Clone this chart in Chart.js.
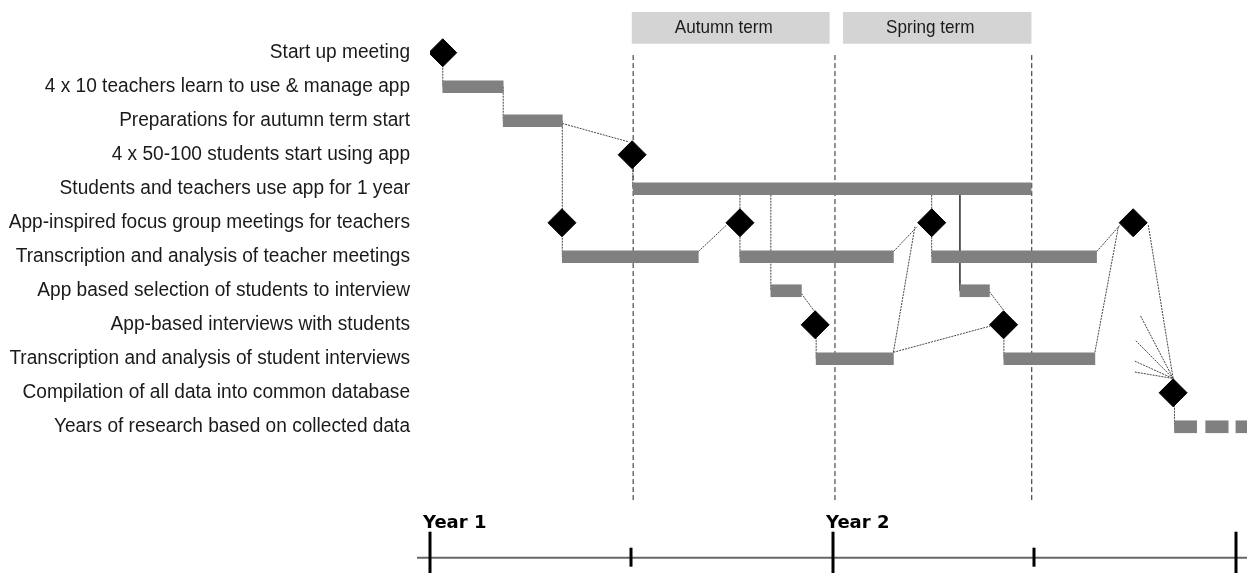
<!DOCTYPE html>
<html>
<head>
<meta charset="utf-8">
<script src="https://cdn.jsdelivr.net/npm/chart.js@4.4.0/dist/chart.umd.min.js"></script>
<style>
  html, body { margin: 0; padding: 0; background: #fff; }
  #wrap { width: 1247px; height: 573px; }
</style>
</head>
<body>
<div id="wrap"><canvas id="plan"></canvas></div>
<script>
// rows, top to bottom
const rowLabels = [
  "Start up meeting",
  "4 x 10 teachers learn to use & manage app",
  "Preparations for autumn term start",
  "4 x 50-100 students start using app",
  "Students and teachers use app for 1 year",
  "App-inspired focus group meetings for teachers",
  "Transcription and analysis of teacher meetings",
  "App based selection of students to interview",
  "App-based interviews with students",
  "Transcription and analysis of student interviews",
  "Compilation of all data into common database",
  "Years of research based on collected data"
];

// activities (months from start of year 1)
const barRows   = [1, 2, 4, 6, 6, 6, 7, 7, 9, 9, 11, 11, 11];
const barStarts = [0.38, 2.18, 6.05, 3.94, 9.23, 14.94, 10.15, 15.78, 11.5, 17.09, 22.17, 23.1, 24.0];
const barEnds   = [2.18, 3.94, 17.9, 7.99, 13.8, 19.85, 11.06, 16.66, 13.8, 19.8, 22.83, 23.77, 24.33];

// milestones
const milestoneRows   = [0, 3, 5, 5, 5, 5, 8, 8, 10];
const milestoneMonths = [0.38, 6.02, 3.93, 9.23, 14.94, 20.94, 11.47, 17.08, 22.13];

// dependency links: [month1, row1, month2, row2]
const links = [
  [0.38, 0, 0.38, 1],
  [2.18, 1, 2.18, 2],
  [3.94, 2.08, 5.91, 2.62],
  [3.94, 2, 3.94, 6],
  [6.04, 3, 6.04, 4],
  [9.23, 4, 9.23, 6],
  [10.15, 4, 10.15, 7],
  [14.94, 4, 14.94, 6],
  [7.99, 5.85, 8.83, 5.07],
  [13.8, 5.85, 14.5, 5.12],
  [13.8, 8.81, 14.44, 5.12],
  [13.8, 8.81, 16.68, 8.04],
  [11.06, 7.08, 11.46, 7.62],
  [11.5, 8, 11.5, 9],
  [16.66, 7.03, 17.08, 7.57],
  [17.09, 8, 17.09, 9],
  [19.85, 5.85, 20.55, 5.07],
  [19.8, 8.81, 20.5, 5.12],
  [21.39, 5.07, 22.13, 9.58],
  [21.16, 7.74, 22.13, 9.58],
  [21.02, 8.47, 22.13, 9.58],
  [20.99, 9.07, 22.13, 9.58],
  [20.99, 9.39, 22.13, 9.58],
  [22.17, 10, 22.17, 11]
];
const solidLinks = [
  [15.78, 4, 15.78, 7]
];

// terms
const termNames  = ["Autumn term", "Spring term"];
const termStarts = [6.02, 12.31];
const termEnds   = [11.89, 17.9];
const termBreaks = [6.05, 12.06, 17.92];

// time axis
const axisTicks  = [0, 6, 12, 18, 24];
const yearLabels = ["Year 1", "", "Year 2", "", ""];

const termRow = -0.73;
const axisRow = 14.85;
const labelFont = '"Liberation Sans", Arial, sans-serif';

function linkSet(list, dash) {
  return list.map(l => ({
    type: "scatter",
    data: [{ x: l[0], y: l[1] }, { x: l[2], y: l[3] }],
    showLine: true,
    borderColor: "#444",
    borderWidth: 1,
    borderDash: dash,
    pointRadius: 0,
    order: 3
  }));
}

// source text is slightly condensed
function narrowText(ctx, text, px, py, squeeze) {
  ctx.save();
  ctx.translate(px, py);
  ctx.scale(squeeze, 1);
  ctx.fillText(text, 0, 0);
  ctx.restore();
}

const timelinePlugin = {
  id: "timeline",
  afterDatasetsDraw(chart) {
    const { ctx, scales: { x, y } } = chart;
    ctx.save();

    // row labels
    ctx.font = "20px " + labelFont;
    ctx.fillStyle = "#1a1a1a";
    ctx.textAlign = "right";
    ctx.textBaseline = "middle";
    rowLabels.forEach((t, i) => narrowText(ctx, t, 410, y.getPixelForValue(i), 0.955));

    // term titles
    ctx.font = "19px " + labelFont;
    ctx.textAlign = "center";
    termNames.forEach((t, i) => {
      const cx = (x.getPixelForValue(termStarts[i]) + x.getPixelForValue(termEnds[i])) / 2 - 7;
      narrowText(ctx, t, cx, y.getPixelForValue(termRow), 0.9);
    });

    // time axis
    const ay = y.getPixelForValue(axisRow);
    ctx.strokeStyle = "#666";
    ctx.lineWidth = 2;
    ctx.beginPath();
    ctx.moveTo(x.getPixelForValue(0) - 13, ay);
    ctx.lineTo(chart.width, ay);
    ctx.stroke();

    ctx.strokeStyle = "#000";
    ctx.lineWidth = 3;
    ctx.font = "bold 18px 'DejaVu Sans', Verdana, sans-serif";
    ctx.textAlign = "left";
    ctx.textBaseline = "alphabetic";
    ctx.fillStyle = "#000";
    axisTicks.forEach((t, i) => {
      const px = Math.round(x.getPixelForValue(t));
      const major = t % 12 === 0;
      ctx.beginPath();
      ctx.moveTo(px, major ? ay - 26 : ay - 10);
      ctx.lineTo(px, major ? ay + 16 : ay + 9);
      ctx.stroke();
      if (yearLabels[i]) ctx.fillText(yearLabels[i], px - 7, ay - 30);
    });
    ctx.restore();
  }
};

new Chart(document.getElementById("plan"), {
  type: "bar",
  data: {
    datasets: [
      {
        type: "bar",
        indexAxis: "y",
        data: termNames.map((n, i) => ({ x: [termStarts[i], termEnds[i]], y: termRow })),
        backgroundColor: "#d4d4d4",
        barThickness: 31,
        grouped: false,
        order: 5
      },
      ...termBreaks.map(b => ({
        type: "scatter",
        data: [{ x: b, y: 0.07 }, { x: b, y: 13.16 }],
        showLine: true,
        borderColor: "#222",
        borderWidth: 1,
        borderDash: [5, 3],
        pointRadius: 0,
        order: 4
      })),
      ...linkSet(links, [2, 1]),
      ...linkSet(solidLinks, []),
      {
        type: "bar",
        indexAxis: "y",
        data: barRows.map((r, i) => ({ x: [barStarts[i], barEnds[i]], y: r })),
        backgroundColor: "#808080",
        barThickness: 12,
        grouped: false,
        order: 2
      },
      {
        type: "scatter",
        data: milestoneRows.map((r, i) => ({ x: milestoneMonths[i], y: r })),
        pointStyle: "rectRot",
        pointRadius: 14,
        backgroundColor: "#000",
        borderColor: "#000",
        borderWidth: 1,
        order: 1
      }
    ]
  },
  options: {
    responsive: true,
    maintainAspectRatio: false,
    animation: false,
    events: [],
    layout: { padding: { left: 430, right: 0, top: 0, bottom: 0 }, autoPadding: false },
    plugins: { legend: { display: false }, tooltip: { enabled: false } },
    scales: {
      x: { type: "linear", min: 0, max: 24.33, offset: false, display: false },
      y: { type: "linear", reverse: true, min: -1.55, max: 15.3, offset: false, display: false }
    }
  },
  plugins: [timelinePlugin]
});
</script>
</body>
</html>
